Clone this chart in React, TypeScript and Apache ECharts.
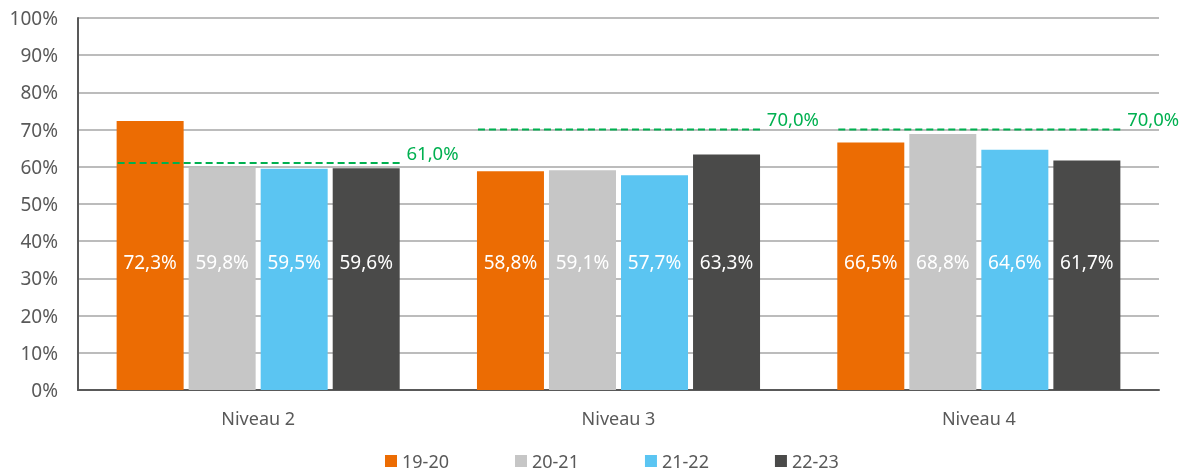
import React, { useEffect, useRef } from "react";
import * as echarts from "echarts";

const categories = ["Niveau 2", "Niveau 3", "Niveau 4"];
const seriesNames = ["19-20", "20-21", "21-22", "22-23"];
const values19_20 = [72.3, 58.8, 66.5];
const values20_21 = [59.8, 59.1, 68.8];
const values21_22 = [59.5, 57.7, 64.6];
const values22_23 = [59.6, 63.3, 61.7];
const targets = [61.0, 70.0, 70.0];
const colors = ["#EC6C03", "#C6C6C6", "#5BC5F2", "#4A4A49"];
const FONT = "'Noto Sans', sans-serif";

const fmt = (v: number) => v.toFixed(1).replace(".", ",") + "%";

export default function App() {
  const ref = useRef<HTMLDivElement>(null);
  useEffect(() => {
    if (!ref.current) return;
    const chart = echarts.init(ref.current, undefined, { renderer: "svg" });
    const all = [values19_20, values20_21, values21_22, values22_23];
    const barSeries = all.map((vals, i) => ({
      name: seriesNames[i],
      type: "bar",
      xAxisIndex: 0,
      data: vals,
      barWidth: 67,
      barGap: "7.5%",
      itemStyle: { color: colors[i] },
      label: {
        show: true,
        position: "insideBottom",
        distance: 119,
        color: "#fff",
        fontSize: 19,
        fontFamily: FONT,
        formatter: (p: any) => fmt(p.value),
      },
    }));
    const lineSeries = targets.map((t, i) => ({
      name: "target" + i,
      type: "line",
      xAxisIndex: 1,
      data: [
        [i - 0.39, t],
        [i + 0.395, t],
      ],
      symbol: "none",
      lineStyle: { color: "#00B050", type: [7, 4], width: 2 },
      endLabel: {
        show: true,
        formatter: () => fmt(t),
        color: "#00B050",
        fontSize: 18.5,
        fontFamily: FONT,
        offset: [-2, -11],
      },
      z: 5,
    }));
    chart.setOption({
      animation: false,
      textStyle: { fontFamily: FONT },
      grid: { left: 78, right: 25, top: 18, bottom: 85, containLabel: false },
      legend: {
        data: seriesNames,
        bottom: 0,
        left: 380,
        icon: "rect",
        itemWidth: 12,
        itemHeight: 12,
        itemGap: 66,
        textStyle: { color: "#595959", fontSize: 18, fontFamily: FONT },
      },
      xAxis: [
        {
          type: "category",
          data: categories,
          axisLine: { lineStyle: { color: "#595959", width: 2 } },
          axisTick: { show: false },
          axisLabel: { color: "#595959", fontSize: 18, margin: 19, fontFamily: FONT },
        },
        {
          type: "value",
          min: -0.5,
          max: 2.5,
          show: false,
        },
      ],
      yAxis: {
        type: "value",
        min: 0,
        max: 100,
        interval: 10,
        axisLine: { show: true, onZero: false, lineStyle: { color: "#595959", width: 2 } },
        axisTick: { show: false },
        axisLabel: {
          color: "#595959",
          fontSize: 19,
          margin: 20,
          fontFamily: FONT,
          formatter: "{value}%",
        },
        splitLine: { lineStyle: { color: "#A6A6A6", width: 1.5 } },
      },
      series: [...barSeries, ...lineSeries],
    });
    return () => chart.dispose();
  }, []);
  return (
    <div
      ref={ref}
      style={{ position: "fixed", left: 0, top: 0, width: 1184, height: 475 }}
    />
  );
}
